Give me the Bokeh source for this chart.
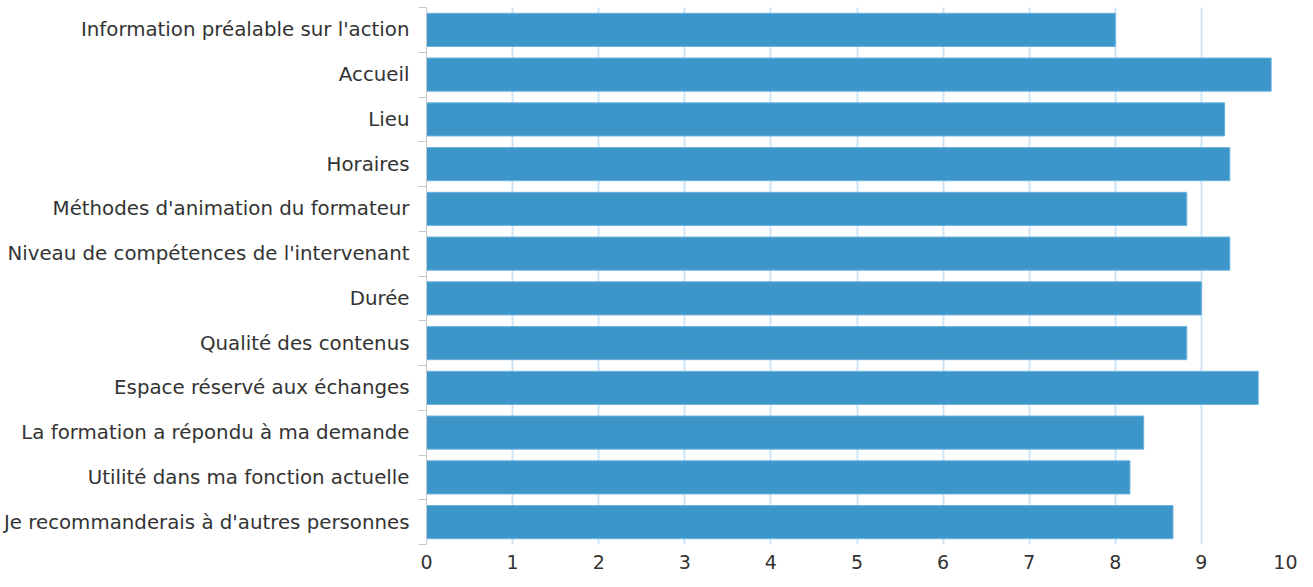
from bokeh.plotting import figure
from bokeh.models import Range1d, FixedTicker, ColumnDataSource
from bokeh.embed import file_html
from bokeh.resources import INLINE

categories = [
    "Information préalable sur l'action",
    "Accueil",
    "Lieu",
    "Horaires",
    "Méthodes d'animation du formateur",
    "Niveau de compétences de l'intervenant",
    "Durée",
    "Qualité des contenus",
    "Espace réservé aux échanges",
    "La formation a répondu à ma demande",
    "Utilité dans ma fonction actuelle",
    "Je recommanderais à d'autres personnes",
]
scores = [8.0, 9.81, 9.27, 9.33, 8.83, 9.33, 9.0, 8.83, 9.66, 8.33, 8.17, 8.67]
x_ticks = [0, 1, 2, 3, 4, 5, 6, 7, 8, 9, 10]

n = len(categories)
ypos = [n - 0.5 - i for i in range(n)]
src = ColumnDataSource(dict(y=ypos, right=scores, label=categories))

p = figure(width=1297, height=571, output_backend="svg", toolbar_location=None,
           x_range=Range1d(0, 10), y_range=Range1d(0, n))
p.min_border_left = 424
p.min_border_right = 10
p.min_border_top = 7
p.min_border_bottom = 0
p.outline_line_color = None
p.background_fill_color = "white"
p.border_fill_color = "white"

p.hbar(y="y", right="right", left=0, height=0.74, source=src,
       fill_color="#3D96C9", line_color="#6DB1DE", line_width=1)

font = "DejaVu Sans"
# y axis
p.yaxis.ticker = FixedTicker(ticks=ypos, minor_ticks=list(range(n + 1)))
p.yaxis.major_label_overrides = {y: c for y, c in zip(ypos, categories)}
p.yaxis.major_tick_line_color = None
p.yaxis.minor_tick_line_color = "#C8C8C8"
p.yaxis.minor_tick_out = 8
p.yaxis.minor_tick_in = 0
p.yaxis.axis_line_color = "#C8C8C8"
p.yaxis.major_label_text_font = font
p.yaxis.major_label_text_font_size = "19.8px"
p.yaxis.major_label_text_color = "#333333"
p.yaxis.major_label_standoff = 9

# x axis
p.xaxis.ticker = FixedTicker(ticks=x_ticks)
p.xaxis.axis_line_color = None
p.xaxis.major_tick_line_color = None
p.xaxis.minor_tick_line_color = None
p.xaxis.major_label_text_font = font
p.xaxis.major_label_text_font_size = "19px"
p.xaxis.major_label_text_color = "#333333"
p.xaxis.major_label_standoff = 4

p.ygrid.grid_line_color = None
p.xgrid.ticker = FixedTicker(ticks=x_ticks[1:])
p.xgrid.grid_line_color = "#9CC9F2"
p.xgrid.grid_line_dash = "1 1"
p.xgrid.grid_line_width = 2

open("out.html", "w").write(file_html(p, INLINE))
